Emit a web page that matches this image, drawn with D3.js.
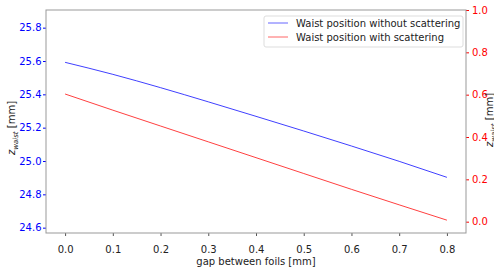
<!DOCTYPE html>
<html>
<head>
<meta charset="utf-8">
<script src="https://cdn.jsdelivr.net/npm/d3@7"></script>
<style>
  body { margin: 0; background: #fff; }
  text { font-family: "DejaVu Sans", sans-serif; }
</style>
</head>
<body>
<script>
// gap between foils [mm]
const gaps = [0.0, 0.1, 0.2, 0.3, 0.4, 0.5, 0.6, 0.7, 0.8];
// waist position, mm
const waistNoScatter = [25.592, 25.52, 25.44, 25.355, 25.268, 25.18, 25.09, 24.998, 24.902];
const waistScatter = [25.402, 25.305, 25.21, 25.115, 25.02, 24.925, 24.83, 24.737, 24.645];

const xTicks = [0.0, 0.1, 0.2, 0.3, 0.4, 0.5, 0.6, 0.7, 0.8];
const leftTicks = [24.6, 24.8, 25.0, 25.2, 25.4, 25.6, 25.8];
const rightTicks = [0.0, 0.2, 0.4, 0.6, 0.8, 1.0];
const seriesNames = ['Waist position without scattering', 'Waist position with scattering'];
const colors = ['#0000ff', '#ff0000'];

const W = 494, H = 271;
const margin = { top: 10, right: 28, bottom: 38, left: 46 };
const innerW = W - margin.left - margin.right;
const innerH = H - margin.top - margin.bottom;

const xScale = d3.scaleLinear().domain([-0.04, 0.84]).range([0, innerW]);
const yLeft = d3.scaleLinear().domain([24.568, 25.906]).range([innerH, 0]);
const yRight = d3.scaleLinear().domain([-0.0535, 1.0]).range([innerH, 0]);

const svg = d3.select('body')
  .append('svg')
  .attr('width', W)
  .attr('height', H);

const graph = svg.append('g')
  .attr('transform', 'translate(' + margin.left + ',' + margin.top + ')');

const fmt = d3.format('.1f');
const fontSize = '10px';

// x axis
const xGuide = graph.append('g')
  .attr('transform', 'translate(0,' + innerH + ')')
  .call(d3.axisBottom(xScale).tickValues(xTicks).tickFormat(fmt).tickSize(3).tickPadding(10));
xGuide.selectAll('text').attr('fill', '#222').style('font-size', fontSize);
xGuide.selectAll('line').attr('stroke', '#555');

// left y axis
const yGuide = graph.append('g')
  .call(d3.axisLeft(yLeft).tickValues(leftTicks).tickFormat(fmt).tickSize(3).tickPadding(1.5));
yGuide.selectAll('text').attr('fill', 'blue').style('font-size', fontSize);
yGuide.selectAll('line').attr('stroke', 'blue');

// right y axis
const yGuideR = graph.append('g')
  .attr('transform', 'translate(' + innerW + ',0)')
  .call(d3.axisRight(yRight).tickValues(rightTicks).tickFormat(fmt).tickSize(3).tickPadding(3));
yGuideR.selectAll('text').attr('fill', 'red').style('font-size', fontSize);
yGuideR.selectAll('line').attr('stroke', 'red');

[xGuide, yGuide, yGuideR].forEach(g => g.select('.domain').remove());

// frame
graph.append('rect')
  .attr('width', innerW)
  .attr('height', innerH)
  .attr('fill', 'none')
  .attr('stroke', '#999')
  .attr('stroke-width', 1);

const line = d3.line()
  .x((d, i) => xScale(gaps[i]))
  .y(d => yLeft(d))
  .curve(d3.curveMonotoneX);

[waistNoScatter, waistScatter].forEach((series, i) => {
  graph.append('path')
    .datum(series)
    .attr('d', line)
    .style('fill', 'none')
    .style('stroke', colors[i])
    .style('stroke-opacity', 0.75)
    .style('stroke-width', 1);
});

// axis labels
graph.append('text')
  .attr('x', innerW / 2)
  .attr('y', innerH + 32)
  .attr('text-anchor', 'middle')
  .style('font-size', fontSize)
  .attr('fill', '#222')
  .text('gap between foils [mm]');

const zLabel = (x, y) => {
  const t = svg.append('text')
    .attr('transform', 'translate(' + x + ',' + y + ') rotate(-90)')
    .attr('text-anchor', 'middle')
    .style('font-size', fontSize)
    .attr('fill', '#222');
  t.append('tspan').style('font-style', 'italic').text('z');
  t.append('tspan').attr('dy', 2.5).style('font-size', '7px').style('font-style', 'italic').text('waist');
  t.append('tspan').attr('dy', -2.5).text(' [mm]');
};
zLabel(15, 128);
zLabel(493, 120);

// legend
const legend = graph.append('g')
  .attr('transform', 'translate(' + (264 - margin.left) + ',' + (16 - margin.top) + ')');
legend.append('rect')
  .attr('width', 199)
  .attr('height', 31)
  .attr('rx', 2)
  .attr('fill', 'white')
  .attr('fill-opacity', 0.8)
  .attr('stroke', '#ddd');
seriesNames.forEach((name, i) => {
  const yy = 7 + i * 14;
  legend.append('line')
    .attr('x1', 4).attr('x2', 24)
    .attr('y1', yy).attr('y2', yy)
    .style('stroke', colors[i])
    .style('stroke-opacity', 0.6)
    .style('stroke-width', 1);
  legend.append('text')
    .attr('x', 32)
    .attr('y', yy + 4)
    .style('font-size', fontSize)
    .attr('fill', '#222')
    .text(name);
});
</script>
</body>
</html>
